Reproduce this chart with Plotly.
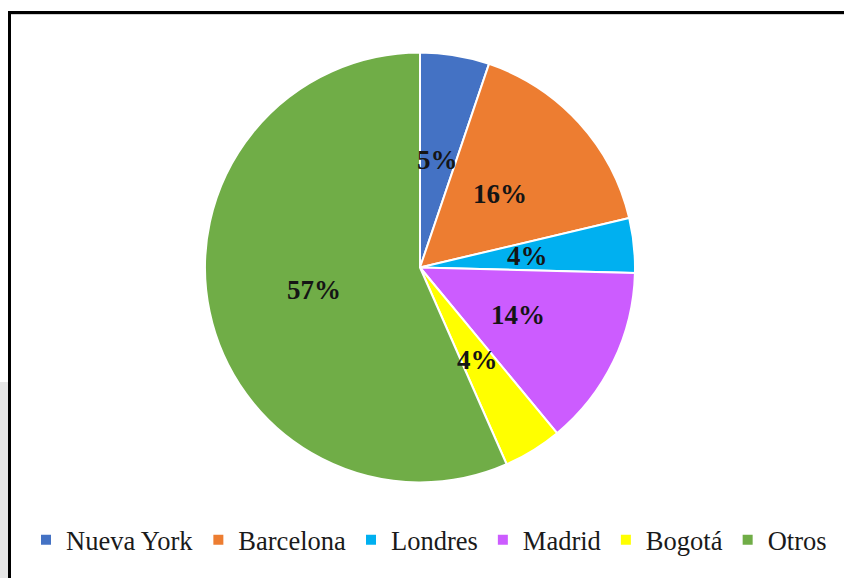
import math
import plotly.graph_objects as go

# ---- data ----
labels = ["Nueva York", "Barcelona", "Londres", "Madrid", "Bogotá", "Otros"]
values = [5.2, 16.1, 4.1, 13.6, 4.4, 56.6]
colors = ["#4472C4", "#ED7D31", "#00B0F0", "#CC5CFF", "#FFFF00", "#70AD47"]

# ---- geometry ----
W, H = 844, 578
cx, cy, R = 420, 267.5, 215          # pie centre / radius in pixels
dom_x = [(cx - R) / W, (cx + R) / W]
dom_y = [(H - cy - R) / H, (H - cy + R) / H]

fig = go.Figure()
fig.add_trace(go.Pie(
    labels=labels,
    values=values,
    sort=False,
    direction="clockwise",
    rotation=0,
    textinfo="none",
    marker=dict(colors=colors, line=dict(color="white", width=2)),
    domain=dict(x=dom_x, y=dom_y),
    showlegend=True,
))

# percentage labels at half radius on each slice's mid-angle
total = sum(values)
annotations = []
cum = 0.0
for v in values:
    mid = (cum + v / 2) / total
    cum += v
    th = 2 * math.pi * mid
    px = cx + 0.505 * R * math.sin(th)
    py = cy - 0.505 * R * math.cos(th)
    annotations.append(dict(
        x=px / W, y=1 - py / H, xref="paper", yref="paper",
        text=f"<b>{round(v / total * 100)}%</b>", showarrow=False,
        font=dict(family="Liberation Serif", size=27, color="#151515"),
        xanchor="center", yanchor="middle",
    ))

shapes = [
    dict(type="rect", xref="paper", yref="paper", x0=0, x1=8 / W,
         y0=0, y1=1 - 382 / H, fillcolor="#e6e6e6", line=dict(width=0), layer="below"),
    dict(type="line", xref="paper", yref="paper", x0=8 / W, x1=1,
         y0=1 - 12.5 / H, y1=1 - 12.5 / H, line=dict(color="black", width=3)),
    dict(type="line", xref="paper", yref="paper", x0=9.5 / W, x1=9.5 / W,
         y0=0, y1=1 - 11 / H, line=dict(color="black", width=3)),
    dict(type="line", xref="paper", yref="paper", x0=11 / W, x1=1,
         y0=1 - 14.5 / H, y1=1 - 14.5 / H, line=dict(color="#d0d0d0", width=1)),
]

fig.update_layout(
    width=W, height=H, autosize=False,
    margin=dict(l=0, r=0, t=0, b=0),
    paper_bgcolor="white", plot_bgcolor="white",
    annotations=annotations,
    shapes=shapes,
    legend=dict(
        orientation="h", x=26 / W, xanchor="left",
        y=1 - 540 / H, yanchor="middle",
        font=dict(family="Liberation Serif", size=26.5, color="#1a1a1a"),
        itemwidth=30, bgcolor="rgba(0,0,0,0)",
    ),
)

fig.write_html(
    "out.html",
    config={"displayModeBar": False},
    post_script="document.body.style.margin='0px';document.body.style.overflow='hidden';",
)
